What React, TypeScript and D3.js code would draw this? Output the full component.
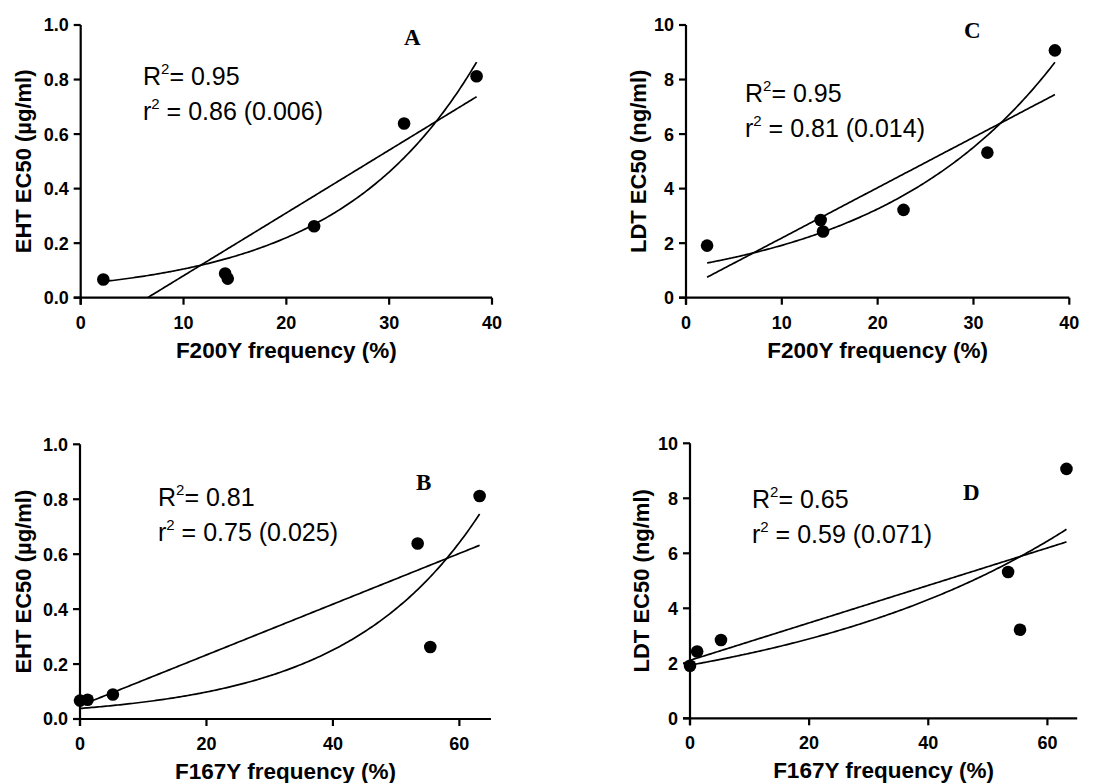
import React from "react";
import * as d3 from "d3";

// ---- data (six field populations) ----
const f200yFrequency = [2.2, 14.05, 14.3, 22.7, 31.45, 38.5];
const f167yFrequency = [0, 5.2, 1.2, 55.4, 53.4, 63.2];
const ehtEC50 = [0.067, 0.089, 0.07, 0.262, 0.639, 0.812];
const ldtEC50 = [1.91, 2.85, 2.43, 3.22, 5.32, 9.07];

const panelLetters = ["A", "B", "C", "D"];
const bigR2 = ["0.95", "0.81", "0.95", "0.65"];
const smallR2 = ["0.86 (0.006)", "0.75 (0.025)", "0.81 (0.014)", "0.59 (0.071)"];
const xTicksF200Y = [0, 10, 20, 30, 40];
const xTicksF167Y = [0, 20, 40, 60];
const yTicksEHT = [0, 0.2, 0.4, 0.6, 0.8, 1.0];
const yTicksLDT = [0, 2, 4, 6, 8, 10];
const xTitles = ["F200Y frequency (%)", "F167Y frequency (%)"];
const yTitles = ["EHT EC50 (µg/ml)", "LDT EC50 (ng/ml)"];

// ---- fits ----
function linearFit(xs: number[], ys: number[]) {
  const mx = d3.mean(xs)!;
  const my = d3.mean(ys)!;
  let sxy = 0, sxx = 0;
  xs.forEach((x, i) => {
    sxy += (x - mx) * (ys[i] - my);
    sxx += (x - mx) * (x - mx);
  });
  const slope = sxy / sxx;
  const intercept = my - slope * mx;
  return (x: number) => intercept + slope * x;
}

function expFit(xs: number[], ys: number[]) {
  const evalB = (b: number) => {
    let num = 0, den = 0;
    xs.forEach((x, i) => {
      const e = Math.exp(b * x);
      num += ys[i] * e;
      den += e * e;
    });
    const a = num / den;
    let sse = 0;
    xs.forEach((x, i) => {
      const r = ys[i] - a * Math.exp(b * x);
      sse += r * r;
    });
    return { a, b, sse };
  };
  let best = evalB(0);
  for (let b = 0; b <= 0.3; b += 0.0005) {
    const r = evalB(b);
    if (r.sse < best.sse) best = r;
  }
  const lo = best.b - 0.001, hi = best.b + 0.001;
  for (let b = lo; b <= hi; b += 0.000005) {
    const r = evalB(b);
    if (r.sse < best.sse) best = r;
  }
  return (x: number) => best.a * Math.exp(best.b * x);
}

type Panel = {
  idx: number;
  xs: number[];
  ys: number[];
  xMax: number;
  xTicks: number[];
  yMax: number;
  yTicks: number[];
  yFmt: (v: number) => string;
  xTitle: string;
  yTitle: string;
  box: { left: number; right: number; top: number; bottom: number };
  textPos: [number, number];
  letterPos: [number, number];
  yTitleX: number;
};

const fmt1 = d3.format(".1f");
const fmt0 = d3.format("d");

const panels: Panel[] = [
  {
    idx: 0, xs: f200yFrequency, ys: ehtEC50, xMax: 40, xTicks: xTicksF200Y,
    yMax: 1, yTicks: yTicksEHT, yFmt: fmt1, xTitle: xTitles[0], yTitle: yTitles[0],
    box: { left: 80.7, right: 492, top: 25, bottom: 297.7 },
    textPos: [143, 85], letterPos: [404, 45], yTitleX: 23,
  },
  {
    idx: 1, xs: f167yFrequency, ys: ehtEC50, xMax: 65, xTicks: xTicksF167Y,
    yMax: 1, yTicks: yTicksEHT, yFmt: fmt1, xTitle: xTitles[1], yTitle: yTitles[0],
    box: { left: 80, right: 491, top: 444.3, bottom: 719 },
    textPos: [158, 506], letterPos: [416, 490], yTitleX: 23,
  },
  {
    idx: 2, xs: f200yFrequency, ys: ldtEC50, xMax: 40, xTicks: xTicksF200Y,
    yMax: 10, yTicks: yTicksLDT, yFmt: fmt0, xTitle: xTitles[0], yTitle: yTitles[1],
    box: { left: 686, right: 1069.3, top: 25, bottom: 297.7 },
    textPos: [745, 101.5], letterPos: [964, 38], yTitleX: 638,
  },
  {
    idx: 3, xs: f167yFrequency, ys: ldtEC50, xMax: 65, xTicks: xTicksF167Y,
    yMax: 10, yTicks: yTicksLDT, yFmt: fmt0, xTitle: xTitles[1], yTitle: yTitles[1],
    box: { left: 690, right: 1077.2, top: 443.3, bottom: 718.3 },
    textPos: [752, 507.5], letterPos: [963, 500], yTitleX: 641,
  },
];

const SANS = "Arial, 'Liberation Sans', Helvetica, sans-serif";
const SERIF = "'Times New Roman', 'Liberation Serif', serif";

function PanelView({ p }: { p: Panel }) {
  const { left, right, top, bottom } = p.box;
  const x = d3.scaleLinear().domain([0, p.xMax]).range([left, right]);
  const y = d3.scaleLinear().domain([0, p.yMax]).range([bottom, top]);
  const lin = linearFit(p.xs, p.ys);
  const ex = expFit(p.xs, p.ys);
  const x0 = d3.min(p.xs)!;
  const x1 = d3.max(p.xs)!;
  const samples = d3.range(0, 201).map((i) => x0 + ((x1 - x0) * i) / 200);
  const linPath =
    d3
      .line<number>()
      .x((d) => x(d))
      .y((d) => y(lin(d)))(samples) || "";
  const expPath =
    d3
      .line<number>()
      .x((d) => x(d))
      .y((d) => y(ex(d)))(samples) || "";
  const clipId = `clip-${p.idx}`;
  const tick = 7;
  const midX = (left + right) / 2;
  const midY = (top + bottom) / 2;
  return (
    <g>
      <defs>
        <clipPath id={clipId}>
          <rect x={left} y={top - 20} width={right - left + 20} height={bottom - top + 20} />
        </clipPath>
      </defs>
      {/* axes */}
      <line x1={left} x2={left} y1={top} y2={bottom + tick} stroke="#000" strokeWidth={2.2} />
      <line x1={left - tick} x2={right} y1={bottom} y2={bottom} stroke="#000" strokeWidth={2.2} />
      {p.yTicks.map((t) => (
        <g key={`yt${t}`}>
          <line x1={left - tick} x2={left} y1={y(t)} y2={y(t)} stroke="#000" strokeWidth={2.2} />
          <text
            x={left - 12}
            y={y(t)}
            dy="0.36em"
            textAnchor="end"
            fontFamily={SANS}
            fontWeight="bold"
            fontSize={18}
          >
            {p.yFmt(t)}
          </text>
        </g>
      ))}
      {p.xTicks.map((t) => (
        <g key={`xt${t}`}>
          <line x1={x(t)} x2={x(t)} y1={bottom} y2={bottom + tick} stroke="#000" strokeWidth={2.2} />
          <text
            x={x(t)}
            y={bottom + 31}
            textAnchor="middle"
            fontFamily={SANS}
            fontWeight="bold"
            fontSize={18}
          >
            {t}
          </text>
        </g>
      ))}
      <text
        x={midX}
        y={bottom + 60}
        textAnchor="middle"
        fontFamily={SANS}
        fontWeight="bold"
        fontSize={22.5}
      >
        {p.xTitle}
      </text>
      <text
        transform={`translate(${p.yTitleX},${midY}) rotate(-90)`}
        textAnchor="middle"
        dominantBaseline="central"
        fontFamily={SANS}
        fontWeight="bold"
        fontSize={22}
      >
        {p.yTitle}
      </text>
      {/* fits */}
      <g clipPath={`url(#${clipId})`}>
        <path d={linPath} fill="none" stroke="#000" strokeWidth={1.7} />
        <path d={expPath} fill="none" stroke="#000" strokeWidth={1.7} />
      </g>
      {/* points */}
      {p.xs.map((v, i) => (
        <circle key={`pt${i}`} cx={x(v)} cy={y(p.ys[i])} r={6.3} fill="#000" />
      ))}
      {/* annotations */}
      <text
        x={p.textPos[0]}
        y={p.textPos[1]}
        fontFamily={SANS}
        fontSize={25}
        style={{ whiteSpace: "pre" }}
      >
        <tspan>R</tspan>
        <tspan fontSize={15} dy={-11}>2</tspan>
        <tspan dy={11}>{`= ${bigR2[p.idx]}`}</tspan>
      </text>
      <text
        x={p.textPos[0]}
        y={p.textPos[1] + 35}
        fontFamily={SANS}
        fontSize={25}
        style={{ whiteSpace: "pre" }}
      >
        <tspan>r</tspan>
        <tspan fontSize={15} dy={-11}>2</tspan>
        <tspan dy={11}>{` = ${smallR2[p.idx]}`}</tspan>
      </text>
      <text
        x={p.letterPos[0]}
        y={p.letterPos[1]}
        fontFamily={SERIF}
        fontWeight="bold"
        fontSize={23}
      >
        {panelLetters[p.idx]}
      </text>
    </g>
  );
}

export default function App() {
  return (
    <div style={{ position: "absolute", left: 0, top: 0 }}>
      <svg width={1118} height={783} style={{ display: "block", background: "#fff" }}>
        <rect width={1118} height={783} fill="#fff" />
        {panels.map((p) => (
          <PanelView key={p.idx} p={p} />
        ))}
      </svg>
    </div>
  );
}
